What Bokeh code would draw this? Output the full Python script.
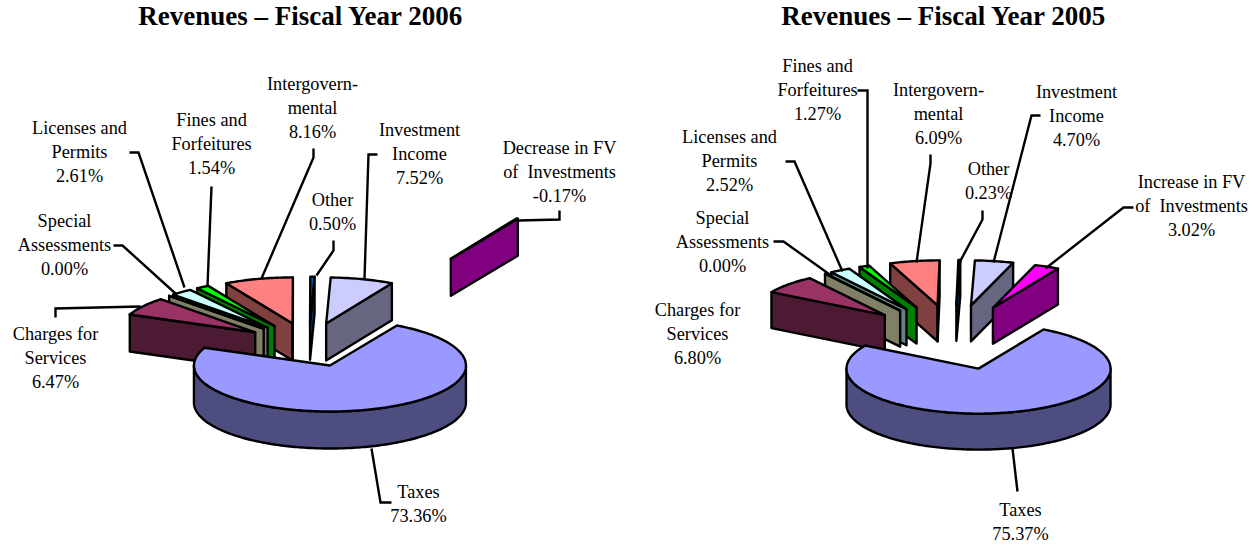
import numpy as np
from bokeh.embed import file_html
from bokeh.resources import INLINE
from bokeh.plotting import figure
from bokeh.core.properties import value

# ---- data ----
slices = ["Taxes", "Charges for Services", "Special Assessments", "Licenses and Permits",
          "Fines and Forfeitures", "Intergovernmental", "Other", "Investment Income", "FV of Investments"]
values_2006 = [73.36, 6.47, 0.00, 2.61, 1.54, 8.16, 0.50, 7.52, -0.17]
values_2005 = [75.37, 6.80, 0.00, 2.52, 1.27, 6.09, 0.23, 4.70, 3.02]
label_heads = [["Taxes"], ["Charges for", "Services"], ["Special", "Assessments"], ["Licenses and", "Permits"],
               ["Fines and", "Forfeitures"], ["Intergovern-", "mental"], ["Other"], ["Investment", "Income"]]
heads_fv_2006 = ["Decrease in FV", "of \u00a0Investments"]
heads_fv_2005 = ["Increase in FV", "of \u00a0Investments"]
title_2006 = "Revenues \u2013 Fiscal Year 2006"
title_2005 = "Revenues \u2013 Fiscal Year 2005"

# ---- styles ----
top_colors = ["#9999FF", "#993366", "#FFFFCC", "#CCFFFF", "#00FF00", "#FF8080", "#0066CC", "#CCCCFF", "#FF00FF"]
wall_colors = ["#4D4D80", "#4D1A33", "#808066", "#668080", "#008000", "#804040", "#003366", "#666680", "#800080"]

# ---- layout (page pixels) ----
W, H = 1257, 544
start_angle = 29.5
layout_2006 = dict(center=(308.4, 344.2), rx=136, ry=46, depth=37,
                   explode=[65, 65, 65, 65, 65, 65, 65, 65, 291])
layout_2005 = dict(center=(953.7, 336.8), rx=132, ry=45, depth=36,
                   explode=[95] * 9)
label_pos_2006 = [(418, 491), (55, 333), (64, 220), (79, 127), (211, 119), (312, 83), (332, 199), (419, 129), (559, 147)]
label_pos_2005 = [(1020, 509), (697, 309), (722, 217), (729, 136), (817, 65), (938, 89), (988, 168), (1076, 91), (1191, 181)]
leaders_2006 = [[(371, 448), (380, 502), (391, 502)],
                [(55, 317), (55, 308), (140, 306)],
                [(113, 245), (122, 245), (175, 293)],
                [(129, 152), (138, 152), (184, 287)],
                [(211, 186), (207, 286)],
                [(313, 148), (313, 157), (261, 278)],
                [(333, 240), (333, 250), (316, 275)],
                [(377, 154), (368, 154), (364, 278)],
                [(518, 220), (559, 219), (559, 210)]]
leaders_2005 = [[(1012, 448), (1017, 491)],
                [(773, 241), (783, 241), (832, 276)],
                [(785, 161), (794, 161), (842, 271)],
                [(857, 90), (867, 90), (867, 268)],
                [(930, 154), (930, 163), (916, 262)],
                [(982, 210), (982, 219), (959, 262)],
                [(1040, 115), (1031, 115), (993, 262)],
                [(1133, 207), (1123, 207), (1045, 268)]]


def pie_polys(vals, lay):
    a = np.abs(np.array(vals, dtype=float))
    spans = a / a.sum() * 360.0
    starts = start_angle + np.concatenate([[0], np.cumsum(spans)[:-1]])
    cx0, cy0 = lay["center"]
    rx, ry, d = lay["rx"], lay["ry"], lay["depth"]
    mids = starts + spans / 2
    signed = (mids + 180) % 360 - 180
    polys = []
    for i in np.argsort(np.abs(signed)):
        t0, t1 = np.radians(starts[i]), np.radians(starts[i] + spans[i])
        tm = np.radians(mids[i])
        e = lay["explode"][i]
        ax = cx0 + e * np.sin(tm)
        ay = cy0 - e * np.cos(tm) * ry / rx
        n = max(2, int(spans[i]) + 2)
        th = np.linspace(t0, t1, n)
        ox, oy = ax + rx * np.sin(th), ay - ry * np.cos(th)
        # radial walls
        if np.sin(t0) < 0:
            polys.append(([ax, ox[0], ox[0], ax], [ay, oy[0], oy[0] + d, ay + d], wall_colors[i]))
        if np.sin(t1) > 0:
            polys.append(([ax, ox[-1], ox[-1], ax], [ay, oy[-1], oy[-1] + d, ay + d], wall_colors[i]))
        # outer rim wall (front half)
        lo, hi = max(t0, np.pi / 2), min(t1, 3 * np.pi / 2)
        if hi > lo:
            rim = np.linspace(lo, hi, 181)
            rx_, ry_ = ax + rx * np.sin(rim), ay - ry * np.cos(rim)
            polys.append((list(rx_) + list(rx_[::-1]), list(ry_) + list(ry_[::-1] + d), wall_colors[i]))
        # top face
        polys.append(([ax] + list(ox), [ay] + list(oy), top_colors[i]))
    return polys


p = figure(width=W, height=H, x_range=(0, W), y_range=(H, 0), output_backend="svg",
           toolbar_location=None, min_border=0, outline_line_color=None, x_axis_type=None, y_axis_type=None)
p.grid.visible = False

polys = pie_polys(values_2006, layout_2006) + pie_polys(values_2005, layout_2005)
p.patches([q[0] for q in polys], [q[1] for q in polys], fill_color=[q[2] for q in polys],
          line_color="black", line_width=2.4, line_join="round")

all_leaders = leaders_2006 + leaders_2005
p.multi_line([[pt[0] for pt in l] for l in all_leaders], [[pt[1] for pt in l] for l in all_leaders],
             line_color="black", line_width=2.4, line_join="miter")

tx, ty, tt = [], [], []
for vals, pos, fv in ((values_2006, label_pos_2006, heads_fv_2006), (values_2005, label_pos_2005, heads_fv_2005)):
    heads = label_heads + [fv]
    for v, (x, y), h in zip(vals, pos, heads):
        for k, line in enumerate(h + [f"{v:.2f}%"]):
            tx.append(x)
            ty.append(y + 24.3 * k)
            tt.append(line)
p.text(tx, ty, text=tt, text_font=value("Liberation Serif"), text_font_size="18.3px",
       text_align="center", text_baseline="middle", text_color="black")
p.text([300.5, 943.5], [15.5, 15.5], text=[title_2006, title_2005], text_font=value("Liberation Serif"),
       text_font_size="27px", text_font_style="bold", text_align="center", text_baseline="middle",
       text_color="black")

open("out.html", "w").write(file_html(p, INLINE))
